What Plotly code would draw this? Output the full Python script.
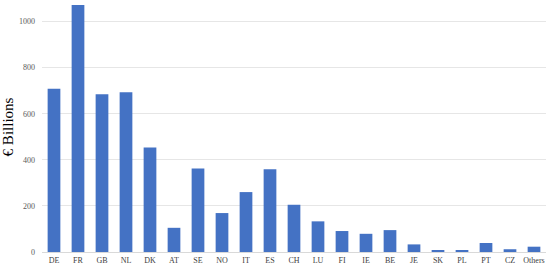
import plotly.graph_objects as go

countries = ['DE', 'FR', 'GB', 'NL', 'DK', 'AT', 'SE', 'NO', 'IT', 'ES', 'CH',
             'LU', 'FI', 'IE', 'BE', 'JE', 'SK', 'PL', 'PT', 'CZ', 'Others']
values = [708, 1072, 685, 693, 453, 105, 362, 169, 260, 359, 205,
          133, 91, 79, 95, 33, 6, 6, 39, 12, 23]
y_ticks = [0, 200, 400, 600, 800, 1000]

fig = go.Figure(layout=go.Layout(
    width=550, height=270,
    margin=dict(l=42, r=4, t=2, b=18),
    plot_bgcolor='white', paper_bgcolor='white',
    font=dict(family='Liberation Serif, DejaVu Serif, serif', color='#595959', size=8),
    bargap=0.47,
    showlegend=False,
))
fig.add_trace(go.Bar(x=countries, y=values, marker=dict(color='#4472C4', line=dict(width=0))))

fig.update_xaxes(showgrid=False, showline=True, linecolor='#d9d9d9', linewidth=1,
                 ticks='', tickfont=dict(size=8, color='#404040'))
fig.update_yaxes(range=[0, 1085], tickvals=y_ticks, showgrid=True, gridcolor='#e6e6e6',
                 gridwidth=1, zeroline=False, ticks='', ticklabelstandoff=6,
                 tickfont=dict(size=8, color='#595959'),
                 title=dict(text='€ Billions', font=dict(size=15, color='#000000'), standoff=6))

# the page body has a default 8px margin; drop it so the figure fills the window
fig.write_html("out.html", config={'displayModeBar': False},
               post_script="document.body.style.margin='0';")
